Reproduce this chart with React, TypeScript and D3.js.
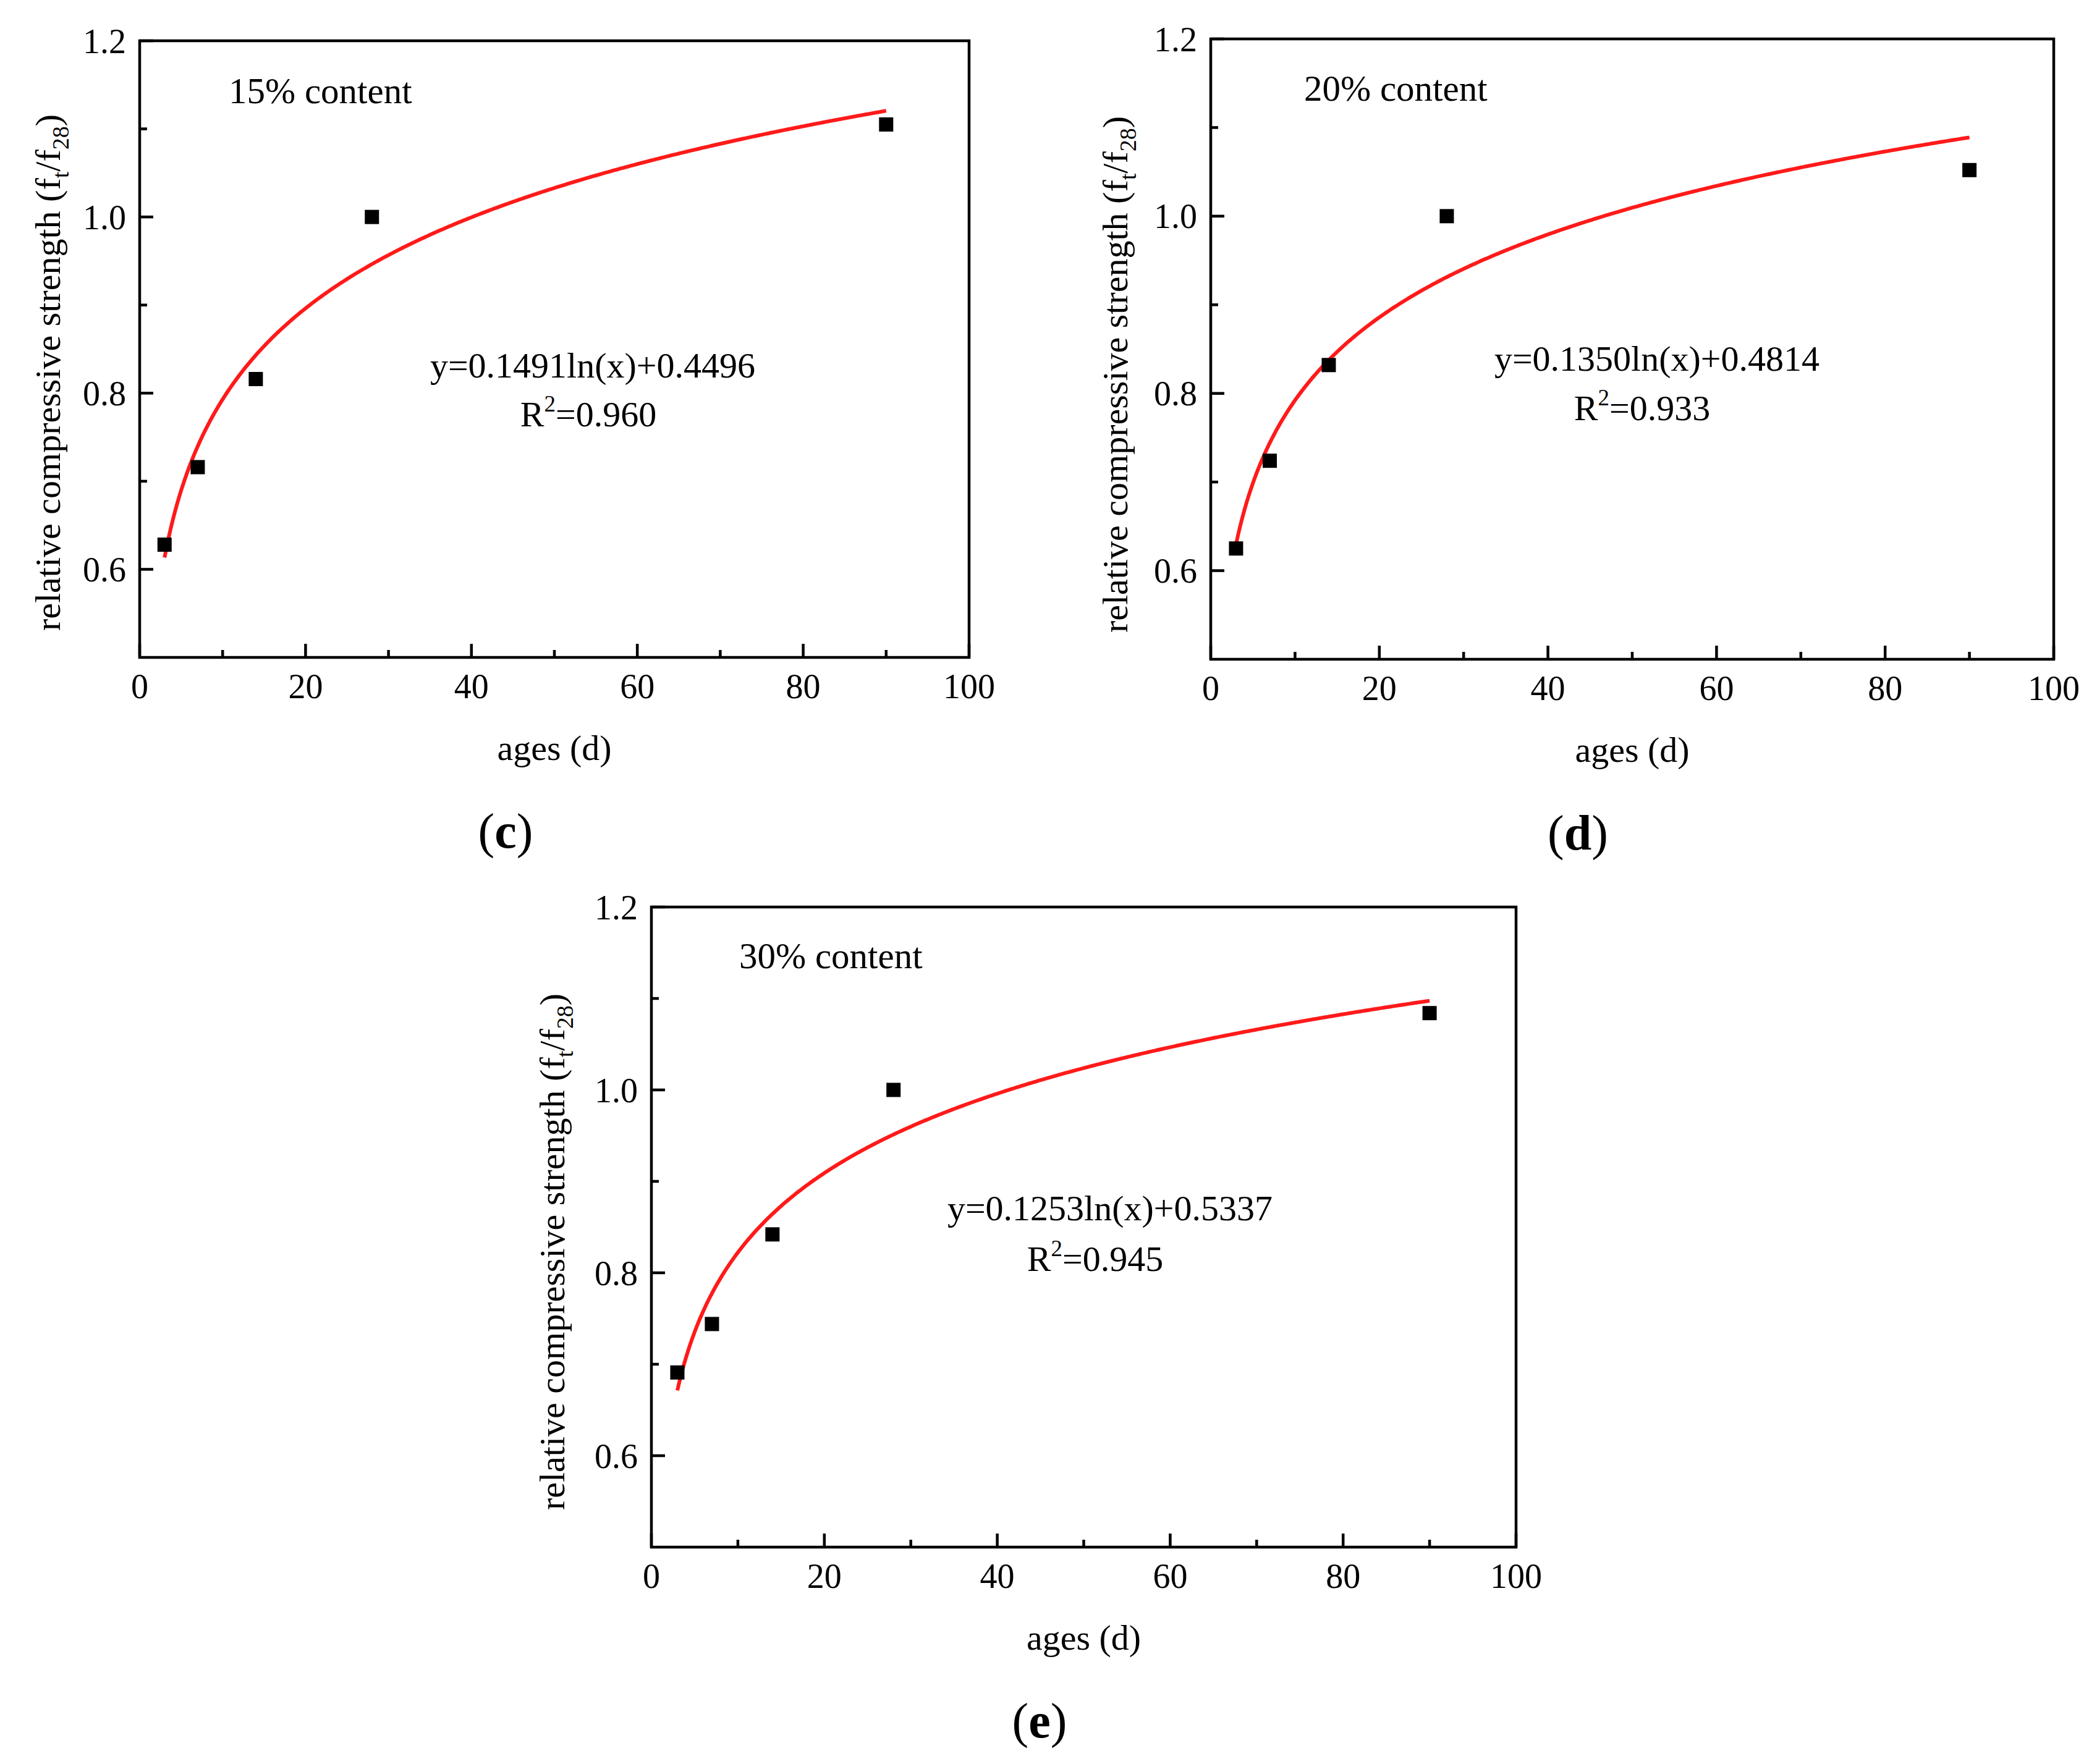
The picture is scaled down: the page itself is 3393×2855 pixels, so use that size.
import * as d3 from 'd3';

// curing ages (days) and relative strength ft/f28
const ages = [3, 7, 14, 28, 90];
const strength15 = [0.628, 0.716, 0.816, 1.0, 1.105];
const strength20 = [0.625, 0.724, 0.832, 1.0, 1.052];
const strength30 = [0.691, 0.744, 0.842, 1.0, 1.084];

// logarithmic fits printed on each panel
const fitSlope = [0.1491, 0.135, 0.1253];
const fitIntercept = [0.4496, 0.4814, 0.5337];
const fitR2 = ['0.960', '0.933', '0.945'];
const fitRange = [3, 90];

const contentLabels = ['15% content', '20% content', '30% content'];
const panelTags = ['c', 'd', 'e'];

const xTicks = [0, 20, 40, 60, 80, 100];
const xMinorTicks = [10, 30, 50, 70, 90];
const yTicks = [0.6, 0.8, 1.0, 1.2];
const yMinorTicks = [0.7, 0.9, 1.1];
const xDomain = [0, 100];
const yDomain = [0.5, 1.2];

const series = [strength15, strength20, strength30];

// page layout (pixels) for each panel
const layout = [
    {
        box: { left: 226, right: 1568, top: 66, bottom: 1064 },
        content: { x: 370, y: 167 },
        eq: { x: 959, y: 611 },
        r2: { x: 952, y: 690 },
        yLabel: { x: 97, y: 603 },
        tag: { x: 818, y: 1372 },
    },
    {
        box: { left: 1959, right: 3323, top: 63, bottom: 1067 },
        content: { x: 2110, y: 163 },
        eq: { x: 2681, y: 600 },
        r2: { x: 2657, y: 680 },
        yLabel: { x: 1824, y: 606 },
        tag: { x: 2553, y: 1375 },
    },
    {
        box: { left: 1054, right: 2453, top: 1468, bottom: 2504 },
        content: { x: 1196, y: 1567 },
        eq: { x: 1796, y: 1975 },
        r2: { x: 1772, y: 2057 },
        yLabel: { x: 913, y: 2026 },
        tag: { x: 1682, y: 2812 },
    },
];

const FONT = '"Liberation Serif", "Times New Roman", serif';
const AXIS_W = 4.5;
const MAJOR = 22;
const MINOR = 12;
const MARKER = 23;

function Panel({ i }: { i: number }) {
    const { box, content, eq, r2, yLabel, tag } = layout[i];
    const x = d3.scaleLinear().domain(xDomain).range([box.left, box.right]);
    const y = d3.scaleLinear().domain(yDomain).range([box.bottom, box.top]);

    const values = series[i];
    const fit = (t: number) => fitSlope[i] * Math.log(t) + fitIntercept[i];
    const curveX = d3.range(fitRange[0], fitRange[1] + 0.001, 0.25);
    const line = d3
        .line<number>()
        .x((t) => x(t))
        .y((t) => y(fit(t)))
        .curve(d3.curveLinear);

    const eqText = `y=${fitSlope[i].toFixed(4)}ln(x)+${fitIntercept[i].toFixed(4)}`;

    return (
        <g fontFamily={FONT} fill="#000">
            {/* ticks (inward, bottom and left only) */}
            {xTicks.map((t) => (
                <line key={'xt' + t} x1={x(t)} x2={x(t)} y1={box.bottom} y2={box.bottom - MAJOR} stroke="#000" strokeWidth={AXIS_W} />
            ))}
            {xMinorTicks.map((t) => (
                <line key={'xm' + t} x1={x(t)} x2={x(t)} y1={box.bottom} y2={box.bottom - MINOR} stroke="#000" strokeWidth={AXIS_W} />
            ))}
            {yTicks.map((t) => (
                <line key={'yt' + t} x1={box.left} x2={box.left + MAJOR} y1={y(t)} y2={y(t)} stroke="#000" strokeWidth={AXIS_W} />
            ))}
            {yMinorTicks.map((t) => (
                <line key={'ym' + t} x1={box.left} x2={box.left + MINOR} y1={y(t)} y2={y(t)} stroke="#000" strokeWidth={AXIS_W} />
            ))}
            <rect
                x={box.left}
                y={box.top}
                width={box.right - box.left}
                height={box.bottom - box.top}
                fill="none"
                stroke="#000"
                strokeWidth={AXIS_W}
            />

            {/* tick labels */}
            {xTicks.map((t) => (
                <text key={'xl' + t} x={x(t)} y={box.bottom + 66} fontSize={56} textAnchor="middle">
                    {t}
                </text>
            ))}
            {yTicks.map((t) => (
                <text key={'yl' + t} x={box.left - 22} y={y(t)} dy="0.35em" fontSize={56} textAnchor="end">
                    {d3.format('.1f')(t)}
                </text>
            ))}

            {/* axis titles */}
            <text x={(box.left + box.right) / 2} y={box.bottom + 166} fontSize={58} textAnchor="middle">
                ages (d)
            </text>
            <text
                transform={`translate(${yLabel.x},${yLabel.y}) rotate(-90)`}
                fontSize={58}
                textAnchor="middle"
            >
                relative compressive strength (f
                <tspan fontSize={38} dy={14}>t</tspan>
                <tspan dy={-14}>/f</tspan>
                <tspan fontSize={38} dy={14}>28</tspan>
                <tspan dy={-14}>)</tspan>
            </text>

            {/* fit curve */}
            <path d={line(curveX) || ''} fill="none" stroke="#ff1a1a" strokeWidth={6} />

            {/* measured points */}
            {ages.map((a, k) => (
                <rect
                    key={'p' + a}
                    x={x(a) - MARKER / 2}
                    y={y(values[k]) - MARKER / 2}
                    width={MARKER}
                    height={MARKER}
                    fill="#000"
                />
            ))}

            {/* annotations */}
            <text x={content.x} y={content.y} fontSize={59}>
                {contentLabels[i]}
            </text>
            <text x={eq.x} y={eq.y} fontSize={58} textAnchor="middle">
                {eqText}
            </text>
            <text x={r2.x} y={r2.y} fontSize={58} textAnchor="middle">
                R<tspan fontSize={37} dy={-24}>2</tspan>
                <tspan dy={24}>={fitR2[i]}</tspan>
            </text>

            {/* sub-figure tag */}
            <text x={tag.x} y={tag.y} fontSize={80} textAnchor="middle">
                (<tspan fontWeight="bold">{panelTags[i]}</tspan>)
            </text>
        </g>
    );
}

export default function App() {
    return (
        <svg
            width={3393}
            height={2855}
            style={{ position: 'absolute', left: 0, top: 0, background: '#fff' }}
        >
            <rect width={3393} height={2855} fill="#fff" />
            {layout.map((_, i) => (
                <Panel key={i} i={i} />
            ))}
        </svg>
    );
}
